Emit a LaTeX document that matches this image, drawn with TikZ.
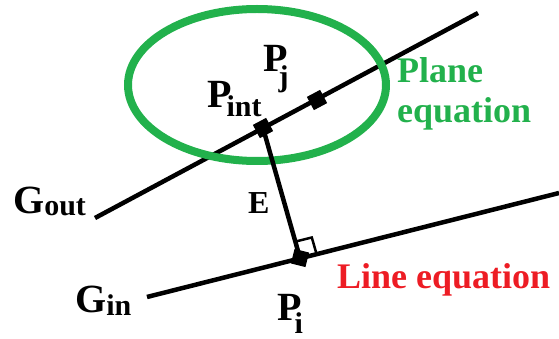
\documentclass[tikz,border=0pt]{standalone}
\usepackage{fontspec}
\newfontfamily\tnr{Liberation Serif}
\definecolor{pgreen}{RGB}{34,177,76}
\definecolor{pred}{RGB}{237,28,36}
\newcommand{\subfont}{\fontsize{30}{30}\selectfont}
\begin{document}
\begin{tikzpicture}[x=1pt,y=-1pt,
  gline/.style={line width=4.5pt},
  dotbox/.style={rectangle,fill=black,minimum size=15pt,inner sep=0pt,rotate=28},
  lbl/.style={anchor=base west,inner sep=0pt},
  clbl/.style={anchor=base west,inner sep=0pt}
]
\useasboundingbox (0,0) rectangle (559,339);
% labels first
\node[lbl] (gout) at (13,213) {\tnr\bfseries\fontsize{40}{40}\selectfont G\raisebox{-2pt}{\subfont out}};
\node[lbl] (gin) at (75,312) {\tnr\bfseries\fontsize{40}{40}\selectfont G\raisebox{-3pt}{\subfont in}};
\node[lbl] (lint) at (207,108) {\tnr\bfseries\fontsize{40}{40}\selectfont P\kern-5pt\raisebox{-9pt}{\subfont int}};
\node[lbl] (lj) at (263,72) {\tnr\bfseries\fontsize{40}{40}\selectfont P\kern-9pt\raisebox{-15pt}{\subfont j}};
\node[lbl] (li) at (277,320) {\tnr\bfseries\fontsize{40}{40}\selectfont P\kern-7pt\raisebox{-13pt}{\subfont i}};
\node[lbl] (le) at (248,213) {\tnr\bfseries\fontsize{32}{32}\selectfont E};
\node[clbl,text=pgreen] (plane) at (397,83) {\tnr\bfseries\fontsize{36}{36}\selectfont Plane};
\node[clbl,text=pgreen] (eq) at (397,123) {\tnr\bfseries\fontsize{36}{36}\selectfont equation};
\node[clbl,text=pred] (line) at (337,288) {\tnr\bfseries\fontsize{36}{36}\selectfont Line equation};
% geometry
\coordinate (GoA) at (95,218);
\coordinate (GoB) at (478,13);
\coordinate (GiA) at (147,297);
\coordinate (GiB) at (559,193);
\coordinate (Pint) at (263,128);
\coordinate (Pj) at (317,100);
\coordinate (Pi) at (300,258);
\coordinate (RA1) at (295.3,241.6);
\coordinate (RA2) at (311.8,237.5);
\coordinate (RA3) at (316.5,253.9);
\draw[gline] (GoA) -- (GoB);
\draw[gline] (GiA) -- (GiB);
\draw[pgreen,line width=8pt] (257,85) ellipse [x radius=129, y radius=76];
\draw[line width=4.5pt] (Pint) -- (Pi);
\draw[line width=2.5pt] (RA1) -- (RA2) -- (RA3);
\node[dotbox] (dint) at (Pint) {};
\node[dotbox] (dj) at (Pj) {};
\node[dotbox,rotate=-42] (di) at (Pi) {};
\end{tikzpicture}
\end{document}
